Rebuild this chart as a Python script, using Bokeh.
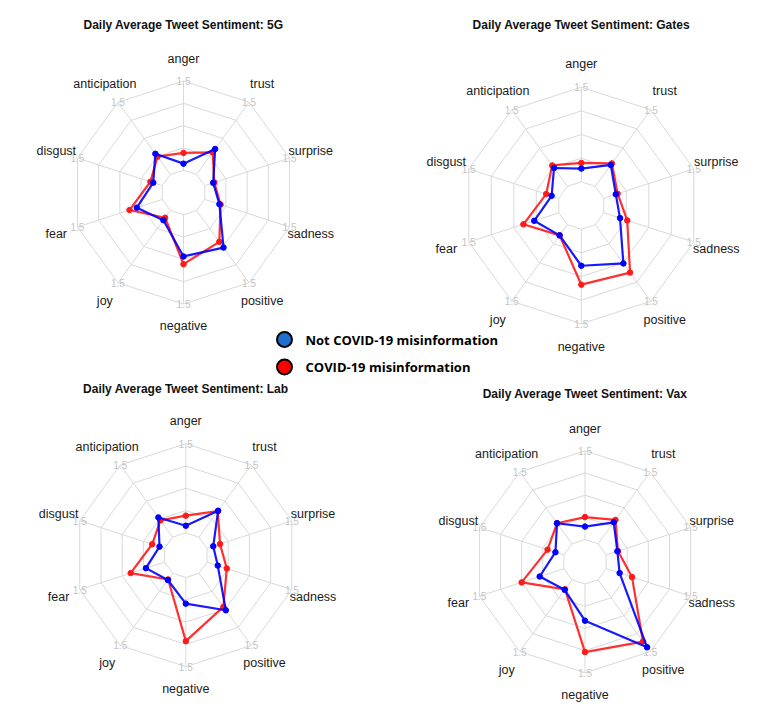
import numpy as np
from bokeh.plotting import figure
from bokeh.models import Range1d
from bokeh.core.properties import value
from bokeh.embed import file_html
from bokeh.resources import INLINE

# ---------------- data ----------------
axes_labels = ["anger", "anticipation", "disgust", "fear", "joy",
               "negative", "positive", "sadness", "surprise", "trust"]
axis_max = 1.5
axis_min = 0.0
tick_label = "1.5"
series_names = ["Not COVID-19 misinformation", "COVID-19 misinformation"]

titles = ["Daily Average Tweet Sentiment: 5G",
          "Daily Average Tweet Sentiment: Gates",
          "Daily Average Tweet Sentiment: Lab",
          "Daily Average Tweet Sentiment: Vax"]

not_misinfo_5g = [0.11, 0.43, 0.16, 0.45, 0.20, 0.70, 0.77, 0.26, 0.15, 0.53]
misinfo_5g = [0.29, 0.37, 0.21, 0.58, 0.15, 0.83, 0.65, 0.28, 0.17, 0.46]

not_misinfo_gates = [0.21, 0.36, 0.12, 0.41, 0.21, 0.58, 0.76, 0.27, 0.20, 0.42]
misinfo_gates = [0.30, 0.41, 0.21, 0.59, 0.21, 0.88, 0.94, 0.39, 0.23, 0.45]

not_misinfo_lab = [0.12, 0.41, 0.09, 0.33, 0.14, 0.44, 0.77, 0.19, 0.11, 0.55]
misinfo_lab = [0.29, 0.35, 0.22, 0.60, 0.13, 1.07, 0.70, 0.35, 0.23, 0.54]

not_misinfo_vax = [0.22, 0.43, 0.15, 0.43, 0.21, 0.62, 1.41, 0.24, 0.20, 0.45]
misinfo_vax = [0.38, 0.43, 0.29, 0.75, 0.20, 1.15, 1.29, 0.46, 0.21, 0.50]

panel_series = [(not_misinfo_5g, misinfo_5g),
                (not_misinfo_gates, misinfo_gates),
                (not_misinfo_lab, misinfo_lab),
                (not_misinfo_vax, misinfo_vax)]

# ---------------- layout / style ----------------
W, H = 762, 706
# panel centre (picture px), radius, title y
panels = [(183.0, 192.0, 111.5, 24.0),
          (580.8, 205.0, 118.3, 24.0),
          (185.3, 554.7, 111.5, 388.3),
          (584.5, 561.3, 111.0, 393.0)]
SEG = 4
GRID_COLOR = "#d9d9d9"
BLUE = "#0000ff"
RED = "#ff1a1a"
LABEL_FONT = value("Liberation Sans")

p = figure(width=W, height=H, output_backend="svg", toolbar_location=None,
           x_range=Range1d(0, W), y_range=Range1d(H, 0),
           x_axis_location=None, y_axis_location=None, min_border=0,
           background_fill_color="white", border_fill_color="white")
p.grid.visible = False
p.outline_line_color = None

n = len(axes_labels)
theta = np.deg2rad(90.0 + 360.0 / n * np.arange(n))


def to_xy(cx, cy, r):
    return cx + r * np.cos(theta), cy - r * np.sin(theta)


def frac(vals):
    v = np.asarray(vals, dtype=float)
    return (1 + (v - axis_min) / (axis_max - axis_min) * SEG) / (SEG + 1)


for (cx, cy, R, ty), title, (s_blue, s_red) in zip(panels, titles, panel_series):
    # rings
    xs, ys = [], []
    for k in range(SEG + 1):
        r = R * (k + 1) / (SEG + 1)
        gx, gy = to_xy(cx, cy, r)
        xs.append(list(gx) + [gx[0]])
        ys.append(list(gy) + [gy[0]])
    # spokes
    ix, iy = to_xy(cx, cy, R / (SEG + 1))
    ox, oy = to_xy(cx, cy, R)
    for a in range(n):
        xs.append([ix[a], ox[a]])
        ys.append([iy[a], oy[a]])
    p.multi_line(xs, ys, line_color=GRID_COLOR, line_width=1)

    # tick labels at outer vertices
    p.text(x=list(ox), y=list(oy), text=[tick_label] * n, text_font=LABEL_FONT,
           text_font_size="10px", text_color="#c4c4c4",
           text_align="center", text_baseline="middle")

    # axis labels
    lx, ly = to_xy(cx, cy, 1.2 * R)
    p.text(x=list(lx), y=list(ly), text=axes_labels, text_font=LABEL_FONT,
           text_font_size="12.5px", text_color="#1a1a1a",
           text_align="center", text_baseline="middle")

    # title
    p.text(x=[cx], y=[ty], text=[title], text_font=LABEL_FONT,
           text_font_size="12px", text_font_style="bold", text_color="#111111",
           text_align="center", text_baseline="middle")

    # series: red first, blue on top
    for vals, col in ((s_red, RED), (s_blue, BLUE)):
        px, py = to_xy(cx, cy, R * frac(vals))
        p.line(list(px) + [px[0]], list(py) + [py[0]], line_color=col,
               line_width=2.2, line_alpha=0.9)
        p.scatter(list(px), list(py), size=5.5, fill_color=col, line_color=col)

# legend
leg_x = 284.0
leg_y = [339.0, 366.5]
leg_fill = ["#1f6fd0", "#ff0000"]
p.scatter([leg_x] * 2, leg_y, size=15, fill_color=leg_fill,
          line_color="black", line_width=2)
p.text(x=[305.0] * 2, y=leg_y, text=series_names, text_font=value("Open Sans"),
       text_font_size="13px", text_font_style="bold", text_color="black",
       text_align="left", text_baseline="middle")

open("out.html", "w").write(file_html(p, INLINE))
